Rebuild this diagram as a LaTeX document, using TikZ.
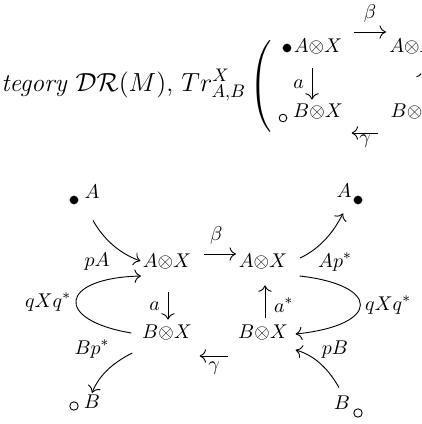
\documentclass[tikz,border=0pt]{standalone}
\usepackage{amsmath,amssymb}
\usepackage{tikz}
\usetikzlibrary{arrows.meta,positioning}

\begin{document}
\begin{tikzpicture}[
  x=0.55pt, y=-0.55pt,
  obj/.style={inner sep=0pt, font=\fontsize{11}{13}\selectfont},
  lbl/.style={inner sep=1pt, font=\fontsize{11}{13}\selectfont},
  arr/.style={-{To[scale=1.3]}, line width=0.5pt},
  fdot/.style={circle, fill, inner sep=0pt, minimum size=4.8pt},
  hdot/.style={circle, draw, line width=0.5pt, inner sep=0pt, minimum size=4.6pt},
]
\useasboundingbox (0,0) rectangle (421,424);
\clip (0,0) rectangle (421,424);

% Sentence at the top
\node[anchor=base west, inner sep=0pt, font=\fontsize{14}{17}\selectfont] (sent) at (1,91) {\textit{tegory} $\mathcal{DR}(M)$, $Tr^X_{A,B}$};
\node[inner sep=0pt, font=\fontsize{14}{17}\selectfont] (lpar) at (262,87) {$\left(\rule[-22pt]{0pt}{48pt}\right.$};

% Small diagram
\node[fdot] (tdot) at (287,48) {};
\node[obj] (tAX) at (318,47) {$A{\otimes}X$};
\node[obj] (tAX2) at (413.5,47) {$A{\otimes}X$};
\node[hdot, minimum size=4.2pt] (tcirc) at (283,118) {};
\node[obj] (tBX) at (318,112) {$B{\otimes}X$};
\node[obj] (tBX2) at (415.5,112) {$B{\otimes}X$};

\draw[arr] ([shift={(11.5,-15)}]tAX.east) -- ([shift={(-3,-15)}]tAX2.west) node[midway, above=4pt, lbl] (tlbeta) {$\beta$};
\draw[arr] ([shift={(-6,13.4)}]tAX.south) -- ([shift={(-6,-4.4)}]tBX.north) node[midway, left=3.2pt, lbl] (tla) {$a$};
\draw[arr] ([shift={(-12,21)}]tBX2.west) -- ([shift={(8.5,21)}]tBX.east) node[midway, below=0pt, lbl] (tlgamma) {$\gamma$};
\draw[arr] ([shift={(9,-4.4)}]tBX2.north) -- ([shift={(9,15.4)}]tAX2.south);

% Main diagram
\node[fdot] (dA1) at (74,200) {};
\node[obj] (A1) at (92,192) {$A$};
\node[obj] (A2) at (344,191) {$A$};
\node[fdot] (dA2) at (358,200) {};
\node[obj] (AX1) at (167,262) {$A{\otimes}X$};
\node[obj] (AX2) at (263,262) {$A{\otimes}X$};
\node[obj] (BX1) at (167,333) {$B{\otimes}X$};
\node[obj] (BX2) at (263,333) {$B{\otimes}X$};
\node[hdot] (cB1) at (74,406) {};
\node[obj] (B1) at (92,402) {$B$};
\node[obj] (B2) at (342,403) {$B$};
\node[hdot] (cB2) at (358,413) {};

% Straight arrows
\draw[arr] ([shift={(12.5,-8)}]AX1.east) -- ([shift={(-2.5,-8)}]AX2.west) node[midway, above=4pt, lbl, xshift=-2pt] (lbeta) {$\beta$};
\draw[arr] ([shift={(1,22.4)}]AX1.south) -- ([shift={(1,-5.4)}]BX1.north) node[midway, left=3.2pt, lbl] (la) {$a$};
\draw[arr] ([shift={(2,-7.4)}]BX2.north) -- ([shift={(2,15.4)}]AX2.south) node[midway, right=3.7pt, lbl, yshift=-2pt] (las) {$a^*$};
\draw[arr] ([shift={(-9.5,23)}]BX2.west) -- ([shift={(7.5,23)}]BX1.east) node[midway, below=2.2pt, lbl] (lgamma) {$\gamma$};

% Curved arrows
\draw[arr] ([shift={(1,21.2)}]A1.south) .. controls +(10,18) and +(-22,-8) .. ([shift={(-2,-1)}]AX1.west);
\draw[arr] ([shift={(12.5,-4)}]AX2.east) .. controls +(19,-9) and +(-10,20) .. ([shift={(-1,15.2)}]A2.south);
\draw[arr] ([shift={(-10.5,0)}]BX1.west) .. controls +(-78,-13) and +(-82,2) .. ([shift={(-1.5,14)}]AX1.west);
\draw[arr] ([shift={(12,14)}]AX2.east) .. controls +(81,9) and +(86,-9) .. ([shift={(7.5,1)}]BX2.east);
\draw[arr] ([shift={(-9.5,12)}]BX1.south west) .. controls +(-16,8) and +(8,-20) .. ([shift={(0,-2)}]B1.north);
\draw[arr] ([shift={(-3,-8.2)}]B2.north) .. controls +(-9,-16) and +(21,6) .. ([shift={(7.5,9)}]BX2.south east);

% Side labels
\node[lbl] (lpA) at (97,262) {$pA$};
\node[lbl] (lAp) at (335,262) {$Ap^*$};
\node[lbl] (lqL) at (48,302) {$qXq^*$};
\node[lbl] (lqR) at (388,305) {$qXq^*$};
\node[lbl] (lBp) at (92,349) {$Bp^*$};
\node[lbl] (lpB) at (335,350) {$pB$};

\end{tikzpicture}
\end{document}
